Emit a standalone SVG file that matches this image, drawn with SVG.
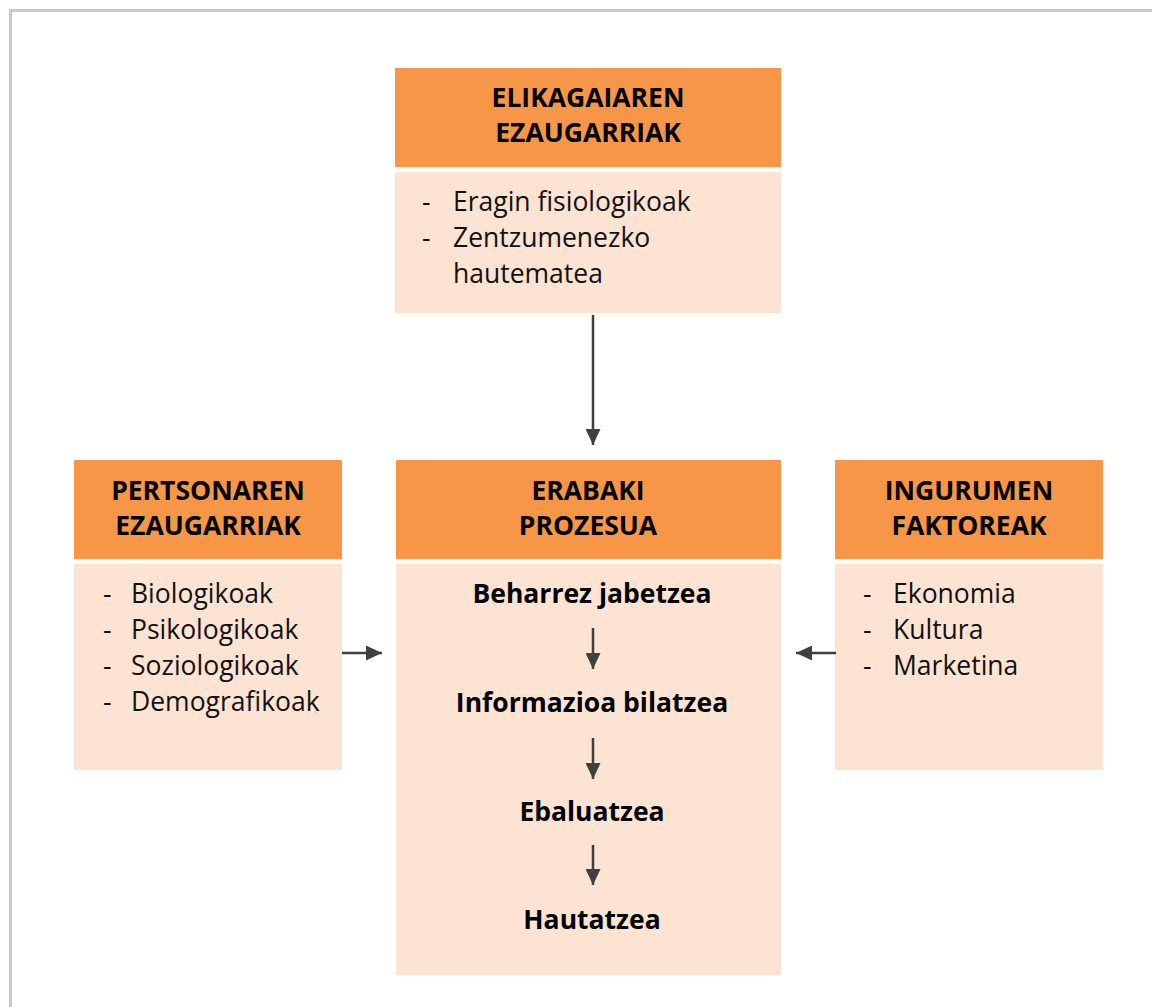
<svg xmlns="http://www.w3.org/2000/svg" width="1152" height="1007" viewBox="0 0 1152 1007">
  <defs>
    <marker id="arrowhead" markerWidth="16" markerHeight="15" refX="16" refY="7.5" orient="auto" markerUnits="userSpaceOnUse" viewBox="0 0 16 15">
      <path d="M0,0 L16,7.5 L0,15 Z" fill="#404040"/>
    </marker>
    <style>
      .head { fill: #F79646; }
      .body { fill: #FCE3D2; }
      .title { font-family: "Open Sans", "Noto Sans", sans-serif; font-weight: 700; font-size: 26.5px; fill: #000; text-anchor: middle; }
      .item { font-family: "Open Sans", "Noto Sans", sans-serif; font-size: 26.5px; fill: #111; }
      .step { font-family: "Open Sans", "Noto Sans", sans-serif; font-weight: 700; font-size: 26.5px; fill: #000; text-anchor: middle; }
      .conn { stroke: #404040; stroke-width: 2.5; fill: none; marker-end: url(#arrowhead); }
    </style>
  </defs>

  <rect width="1152" height="1007" fill="#fff"/>
  <!-- outer frame -->
  <rect x="10.5" y="10.5" width="1160" height="1020" fill="none" stroke="#C8C8C8" stroke-width="3"/>

  <!-- food characteristics -->
  <g id="elikagaia">
    <rect class="head" x="395" y="68" width="386" height="99"/>
    <rect class="body" x="395" y="172" width="386" height="141"/>
    <text class="title" x="588" y="107">ELIKAGAIAREN</text>
    <text class="title" x="588" y="142">EZAUGARRIAK</text>
    <text class="item" x="422" y="211">-</text>
    <text class="item" x="453" y="211">Eragin fisiologikoak</text>
    <text class="item" x="422" y="247">-</text>
    <text class="item" x="453" y="247">Zentzumenezko</text>
    <text class="item" x="453" y="283">hautematea</text>
  </g>

  <!-- personal characteristics -->
  <g id="pertsona">
    <rect class="head" x="74" y="460" width="268" height="99"/>
    <rect class="body" x="74" y="564" width="268" height="206"/>
    <text class="title" x="208" y="500">PERTSONAREN</text>
    <text class="title" x="208" y="535">EZAUGARRIAK</text>
    <text class="item" x="103" y="603">-</text>
    <text class="item" x="131" y="603">Biologikoak</text>
    <text class="item" x="103" y="639">-</text>
    <text class="item" x="131" y="639">Psikologikoak</text>
    <text class="item" x="103" y="675">-</text>
    <text class="item" x="131" y="675">Soziologikoak</text>
    <text class="item" x="103" y="711">-</text>
    <text class="item" x="131" y="711">Demografikoak</text>
  </g>

  <!-- decision process -->
  <g id="erabaki">
    <rect class="head" x="396" y="460" width="385" height="99"/>
    <rect class="body" x="396" y="564" width="385" height="411"/>
    <text class="title" x="588" y="500">ERABAKI</text>
    <text class="title" x="588" y="535">PROZESUA</text>
    <text class="step" x="592" y="603">Beharrez jabetzea</text>
    <text class="step" x="592" y="712">Informazioa bilatzea</text>
    <text class="step" x="592" y="821">Ebaluatzea</text>
    <text class="step" x="592" y="929">Hautatzea</text>
  </g>

  <!-- environmental factors -->
  <g id="ingurumen">
    <rect class="head" x="835" y="460" width="268" height="99"/>
    <rect class="body" x="835" y="564" width="268" height="206"/>
    <text class="title" x="969" y="500">INGURUMEN</text>
    <text class="title" x="969" y="535">FAKTOREAK</text>
    <text class="item" x="863" y="603">-</text>
    <text class="item" x="893" y="603">Ekonomia</text>
    <text class="item" x="863" y="639">-</text>
    <text class="item" x="893" y="639">Kultura</text>
    <text class="item" x="863" y="675">-</text>
    <text class="item" x="893" y="675">Marketina</text>
  </g>

  <!-- connectors -->
  <g id="connectors">
    <line class="conn" x1="593" y1="315" x2="593" y2="445"/>
    <line class="conn" x1="342" y1="653" x2="382" y2="653"/>
    <line class="conn" x1="836" y1="653" x2="796" y2="653"/>
    <line class="conn" x1="593" y1="628" x2="593" y2="669"/>
    <line class="conn" x1="593" y1="738" x2="593" y2="779"/>
    <line class="conn" x1="593" y1="845" x2="593" y2="885"/>
  </g>
</svg>
